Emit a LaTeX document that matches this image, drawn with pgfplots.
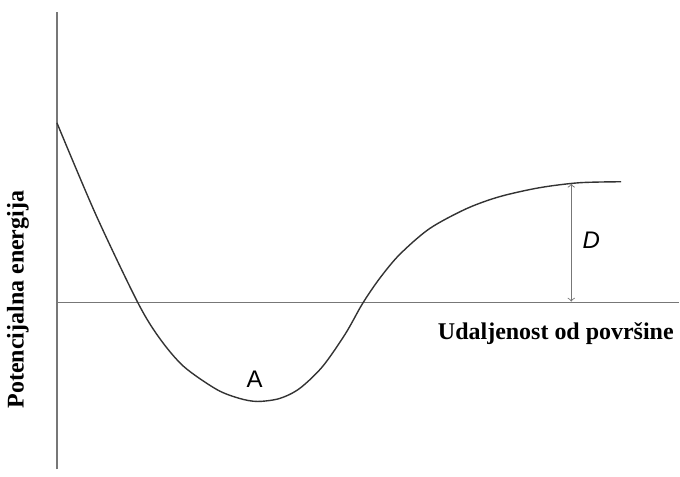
\documentclass[border=0pt]{standalone}
\usepackage{fontspec}
\setmainfont{Liberation Serif}
\newfontfamily\sansf{Liberation Sans}
\usepackage{pgfplots}
\pgfplotsset{compat=1.18}
\definecolor{axgray}{HTML}{777777}
\definecolor{curve}{HTML}{333333}

\begin{document}
\begin{tikzpicture}
\begin{axis}[
scale only axis,
width=340pt, height=238.5pt,
xmin=0, xmax=680,
ymin=0, ymax=477,
hide axis,
clip=false]
    % bounding box = whole picture
    \path (rel axis cs:0,0) rectangle (rel axis cs:1,1);
    % vertical axis line
    \addplot[axgray, line width=0.9pt] coordinates {(57,7)(57,465)};
    % horizontal zero line
    \addplot[axgray, line width=0.9pt] coordinates {(57,174)(680,174)};
    % potential energy curve
    \addplot[curve, line width=0.7pt, smooth, tension=0.5] coordinates {
    (57,354)(96,262)(138,174)(160,138)(184,110)(217,87)(240,78)(258,75)
    (280,78)(300,88)(323,110)(346,143)(363,173)(380,198)(400,222)
    (430,248)(467,268)(500,280)(540,289)(580,294)(622,295)
    };
    % depth arrow D
    \addplot[axgray, line width=0.45pt, <->, >=to] coordinates {(572,175)(572,293)};
    \node[font=\sansf\itshape\fontsize{12}{14}\selectfont] at (axis cs:592,236) {D};
    \node[font=\sansf\fontsize{12}{14}\selectfont] at (axis cs:255,97) {A};
    \node[font=\bfseries\fontsize{12}{14}\selectfont, anchor=east, inner sep=0pt] at (axis cs:675,143) {Udaljenost od površine};
    \node[font=\bfseries\fontsize{12}{14}\selectfont, rotate=90] at (axis cs:18,177) {Potencijalna energija};
\end{axis}
\end{tikzpicture}
\end{document}
